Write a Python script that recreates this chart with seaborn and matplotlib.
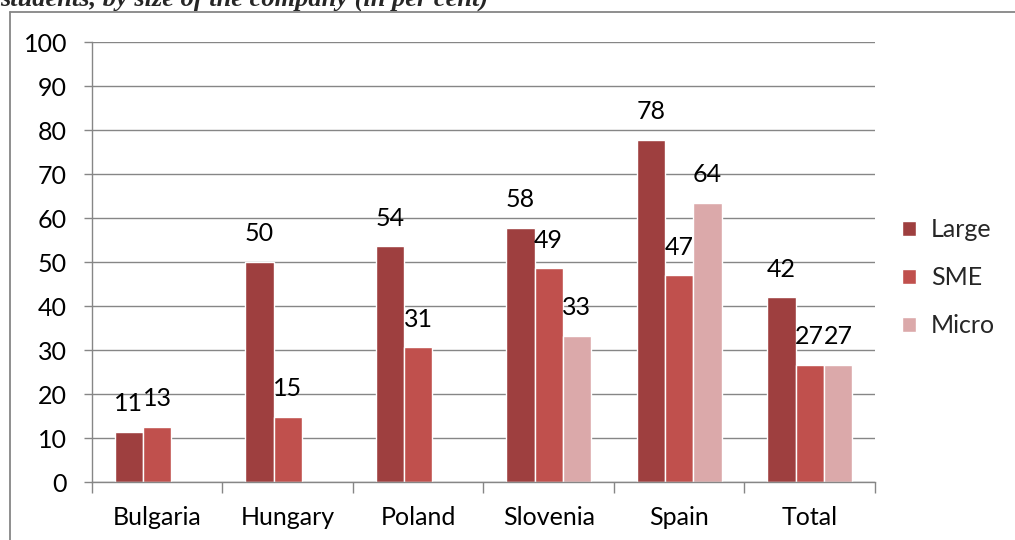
import pandas as pd
import seaborn as sns
import matplotlib.pyplot as plt
from matplotlib.lines import Line2D

# Datos (en %)
paises = ["Bulgaria", "Hungary", "Poland", "Slovenia", "Spain", "Total"]
large = [11.4, 50.0, 53.6, 57.8, 77.7, 42.0]
sme = [12.6, 14.8, 30.6, 48.6, 47.0, 26.7]
micro = [None, None, None, 33.2, 63.5, 26.7]
tamanos = ["Large", "SME", "Micro"]
colores = ["#9e3f3f", "#c0504d", "#dba9aa"]


def main():
    filas = []
    for serie, valores in zip(tamanos, [large, sme, micro]):
        for pais, v in zip(paises, valores):
            if v is not None:
                filas.append({"Pais": pais, "Tamano": serie, "Valor": v})
    df = pd.DataFrame(filas)

    sns.set_theme(style="whitegrid")
    plt.rcParams["font.family"] = ["Lato", "DejaVu Sans"]

    fig = plt.figure(figsize=(10.15, 5.4), dpi=100)
    ax = fig.add_axes([0.0906, 0.1074, 0.7714, 0.8148])

    sns.barplot(
        data=df, x="Pais", y="Valor", hue="Tamano",
        order=paises, hue_order=tamanos, palette=colores, saturation=1,
        width=0.65, edgecolor="white", linewidth=1, ax=ax,
    )

    # Etiquetas de valor encima de cada barra
    for cont in ax.containers:
        ax.bar_label(cont, fmt="%.0f", padding=12, fontsize=18, color="black")

    ax.set_ylim(0, 100)
    ax.set_yticks(range(0, 101, 10))
    ax.set_xlim(-0.5, 5.5)
    ax.set_xlabel("")
    ax.set_ylabel("")

    gris = "#868686"
    ax.grid(axis="y", color=gris, linewidth=1)
    ax.grid(axis="x", visible=False)
    ax.set_axisbelow(True)
    for lado in ["top", "right"]:
        ax.spines[lado].set_visible(False)
    for lado in ["left", "bottom"]:
        ax.spines[lado].set_color(gris)
        ax.spines[lado].set_linewidth(1)

    # marcas del eje x entre categorias
    ax.set_xticks([i - 0.5 for i in range(len(paises) + 1)], minor=True)
    ax.tick_params(axis="x", which="minor", length=8, color=gris, width=1, bottom=True)
    ax.tick_params(axis="x", which="major", length=0, pad=17, labelsize=18, labelcolor="black")
    ax.tick_params(axis="y", length=6, color=gris, width=1, left=True, pad=12,
                   labelsize=18, labelcolor="black")

    handles, labels = ax.get_legend_handles_labels()
    ax.legend(
        handles, labels, loc="center left", bbox_to_anchor=(1.022, 0.465),
        frameon=False, fontsize=18, handlelength=0.55, handleheight=0.55,
        handletextpad=0.6, labelspacing=1.0, borderaxespad=0,
    )

    # marco exterior del grafico (solo borde superior e izquierdo visibles)
    fig.add_artist(Line2D([0.0099, 1.0], [0.978, 0.978], color=gris, linewidth=1.3,
                          transform=fig.transFigure))
    fig.add_artist(Line2D([0.0099, 0.0099], [0.0, 0.978], color=gris, linewidth=1.3,
                          transform=fig.transFigure))

    # titulo cortado en la parte superior
    fig.text(0.0, 1 - 6 / 540, "students, by size of the company (in per cent)",
             family="Liberation Serif", weight="bold", style="italic",
             fontsize=19, va="baseline", ha="left")

    fig.savefig("out.png", dpi=100)


if __name__ == "__main__":
    main()
